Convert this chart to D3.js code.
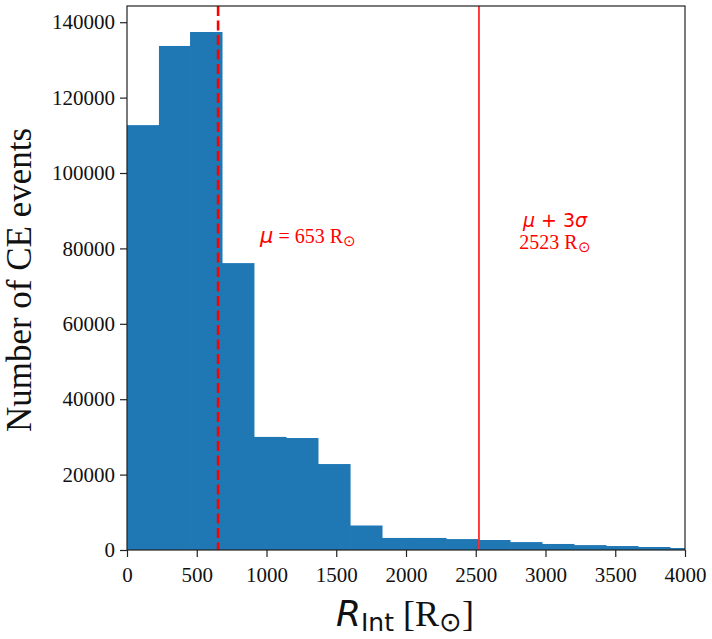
<!DOCTYPE html>
<html><head><meta charset="utf-8">
<script src="https://cdn.jsdelivr.net/npm/d3@7"></script>
<style>body{margin:0;background:#fff;} svg{display:block;}</style>
</head><body>
<svg id="c" width="712" height="639"></svg>
<script>
// Histogram bin edges (R_Int in R_sun) and counts
const binEdges = [0, 229, 452, 681, 910, 1140, 1369, 1599, 1828, 2057, 2287, 2516, 2746, 2975, 3204, 3434, 3663, 3892, 4122];
const counts = [112700, 133700, 137400, 76100, 30000, 29700, 22800, 6500, 3200, 3200, 2900, 2650, 2100, 1600, 1300, 1050, 800, 530];
const meanValue = 653;
const threeSigmaValue = 2523;
const xTicks = [0, 500, 1000, 1500, 2000, 2500, 3000, 3500, 4000];
const yTicks = [0, 20000, 40000, 60000, 80000, 100000, 120000, 140000];

const svg = d3.select("#c");
const L = 127, R = 685, T = 6, B = 550;
const x = d3.scaleLinear().domain([0, 4000]).range([L, R]);
const y = d3.scaleLinear().domain([0, 144300]).range([B, T]);

const defs = svg.append("defs");
defs.append("clipPath").attr("id", "clip").append("rect")
  .attr("x", L).attr("y", T).attr("width", R - L).attr("height", B - T);

const bins = counts.map((c, i) => ({x0: binEdges[i], x1: binEdges[i + 1], c}));
const g = svg.append("g").attr("clip-path", "url(#clip)");
g.selectAll("rect.bar").data(bins).join("rect")
  .attr("x", d => x(d.x0))
  .attr("width", d => x(d.x1) - x(d.x0) + 0.5)
  .attr("y", d => y(d.c))
  .attr("height", d => y(0) - y(d.c))
  .attr("fill", "#1f77b4");

// mean line (dashed)
g.append("line").attr("x1", x(meanValue)).attr("x2", x(meanValue))
  .attr("y1", T).attr("y2", B)
  .attr("stroke", "#ff0000").attr("stroke-width", 2.6).attr("stroke-dasharray", "10,4.5");
// mu+3sigma line
g.append("line").attr("x1", x(threeSigmaValue)).attr("x2", x(threeSigmaValue))
  .attr("y1", T).attr("y2", B)
  .attr("stroke", "#ff2a2a").attr("stroke-width", 1.8);

// axes
const serif = "'Liberation Serif','Times New Roman',serif";
const xAxis = d3.axisBottom(x).tickValues(xTicks).tickSize(7).tickPadding(5).tickFormat(d3.format("d"));
const yAxis = d3.axisLeft(y).tickValues(yTicks).tickSize(7).tickPadding(5).tickFormat(d3.format("d"));
const gx = svg.append("g").attr("transform", `translate(0,${B})`).call(xAxis);
const gy = svg.append("g").attr("transform", `translate(${L},0)`).call(yAxis);
[gx, gy].forEach(a => {
  a.select(".domain").remove();
  a.selectAll(".tick line").attr("stroke", "#222").attr("stroke-width", 1.2);
  a.selectAll(".tick text").attr("font-family", serif).attr("font-size", 21).attr("fill", "#111");
});
gx.selectAll(".tick text").attr("dy", "0.95em");

// frame
svg.append("rect").attr("x", L).attr("y", T).attr("width", R - L).attr("height", B - T)
  .attr("fill", "none").attr("stroke", "#222").attr("stroke-width", 1.2);

// y label
svg.append("text").attr("transform", `translate(31,${(T + B) / 2 + 2}) rotate(-90)`)
  .attr("text-anchor", "middle").attr("font-family", serif).attr("font-size", 35).attr("fill", "#111")
  .text("Number of CE events");

// x label
const xl = svg.append("text").attr("x", 405).attr("y", 626).attr("text-anchor", "middle")
  .attr("font-family", serif).attr("font-size", 36).attr("fill", "#111");
xl.append("tspan").attr("font-family", "'DejaVu Sans'").attr("font-style", "italic").text("R");
xl.append("tspan").attr("font-family", "'DejaVu Sans'").attr("font-size", 25).attr("dy", 5).text("Int");
xl.append("tspan").attr("dy", -5).text(" [R");
xl.append("tspan").attr("font-size", 27).attr("dy", 5).text("\u2299");
xl.append("tspan").attr("dy", -5).text("]");

// annotations
const a1 = svg.append("text").attr("x", 260).attr("y", 243).attr("fill", "#ff0000")
  .attr("font-family", serif).attr("font-size", 20);
a1.append("tspan").attr("font-family", "'DejaVu Sans'").attr("font-style", "italic").attr("font-size", 21).text("\u03bc");
a1.append("tspan").text(" = 653 R");
a1.append("tspan").attr("font-size", 15).attr("dy", 3).text("\u2299");

svg.append("text").attr("x", 555).attr("y", 227).attr("text-anchor", "middle").attr("fill", "#ff0000")
  .attr("font-family", "'DejaVu Sans'").attr("font-size", 19)
  .html('<tspan font-style="italic">\u03bc</tspan> + 3<tspan font-style="italic">\u03c3</tspan>');
const a3 = svg.append("text").attr("x", 555).attr("y", 249).attr("text-anchor", "middle").attr("fill", "#ff0000")
  .attr("font-family", serif).attr("font-size", 20);
a3.append("tspan").text("2523 R");
a3.append("tspan").attr("font-size", 15).attr("dy", 3).text("\u2299");
</script>
</body></html>
